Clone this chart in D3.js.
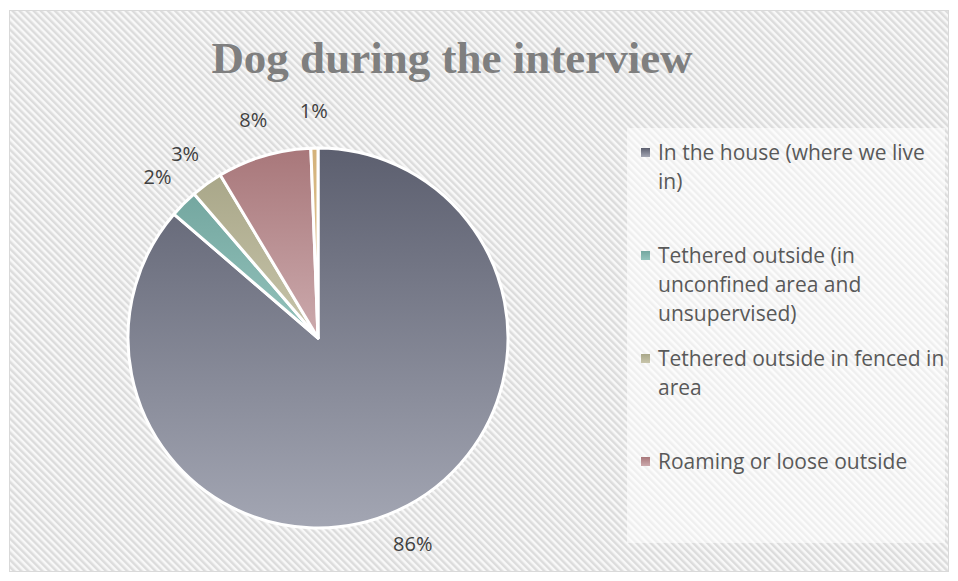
<!DOCTYPE html>
<html>
<head>
<meta charset="utf-8">
<script src="https://cdn.jsdelivr.net/npm/d3@7"></script>
<style>
  html, body { margin: 0; padding: 0; background: #ffffff; }
  svg { display: block; }
</style>
</head>
<body>
<svg id="chart" width="958" height="581"></svg>
<script>
// Where the dog was while the interview took place (share of respondents, %)
const categories = [
  "In the house (where we live in)",
  "Tethered outside (in unconfined area and unsupervised)",
  "Tethered outside in fenced in area",
  "Roaming or loose outside",
  "Other"
];
const shares = [86.3, 2.4, 2.7, 8.0, 0.6];
const colorsTop = ["#5c5f6f", "#74a7a0", "#a9a789", "#a8777a", "#d4b27a"];
const colorsBottom = ["#a3a6b3", "#94c3bc", "#c8c5ab", "#ccaaad", "#e3cb9f"];
const title = "Dog during the interview";

const svg = d3.select("#chart");
const defs = svg.append("defs");

// diagonal hatch used as the chart area fill
const P = 5;
const hatch = defs.append("pattern")
  .attr("id", "hatch")
  .attr("patternUnits", "userSpaceOnUse")
  .attr("width", P).attr("height", P)
  .attr("patternTransform", "rotate(-45)");
hatch.append("rect").attr("width", P).attr("height", P).attr("fill", "#f8f8f8");
hatch.append("rect").attr("width", P / 2).attr("height", P).attr("fill", "#dcdcdc");

// chart frame
svg.append("rect")
  .attr("x", 9.5).attr("y", 10.5)
  .attr("width", 939).attr("height", 561)
  .attr("fill", "url(#hatch)")
  .attr("stroke", "#d9d9d9").attr("stroke-width", 1);

// title
svg.append("text")
  .attr("x", 452).attr("y", 73)
  .attr("text-anchor", "middle")
  .attr("font-family", "'Liberation Serif', 'Times New Roman', serif")
  .attr("font-weight", "bold")
  .attr("font-size", 45)
  .attr("fill", "#7f7f7f")
  .text(title);

// vertical gradients, one per category
categories.forEach((c, i) => {
  const g = defs.append("linearGradient")
    .attr("id", "grad" + i)
    .attr("x1", 0).attr("y1", 0).attr("x2", 0).attr("y2", 1);
  g.append("stop").attr("offset", "0%").attr("stop-color", colorsTop[i]);
  g.append("stop").attr("offset", "100%").attr("stop-color", colorsBottom[i]);
});

// pie
const cx = 318, cy = 338, radius = 190;
const pie = d3.pie().sort(null).value(d => d)(shares);
const arc = d3.arc().innerRadius(0).outerRadius(radius);
const labelArc = d3.arc().innerRadius(227).outerRadius(227);

const gPie = svg.append("g").attr("transform", `translate(${cx},${cy})`);
gPie.selectAll("path.slice")
  .data(pie)
  .join("path")
  .attr("class", "slice")
  .attr("d", arc)
  .attr("fill", (d, i) => `url(#grad${i})`)
  .attr("stroke", "#ffffff")
  .attr("stroke-width", 3)
  .attr("stroke-linejoin", "round");

const fmt = d3.format(".0f");
gPie.selectAll("text.pct")
  .data(pie)
  .join("text")
  .attr("class", "pct")
  .attr("transform", d => `translate(${labelArc.centroid(d)})`)
  .attr("text-anchor", "middle")
  .attr("dy", "0.35em")
  .attr("font-family", "'Open Sans', sans-serif")
  .attr("font-size", 20)
  .attr("fill", "#404040")
  .text(d => fmt(d.data) + "%");

// legend
const lx = 627, ly = 128, lw = 318, lh = 415;
defs.append("clipPath").attr("id", "legendClip")
  .append("rect").attr("x", lx).attr("y", ly).attr("width", lw).attr("height", lh);
svg.append("rect")
  .attr("x", lx).attr("y", ly).attr("width", lw).attr("height", lh)
  .attr("fill", "#ffffff").attr("fill-opacity", 0.55);

const gLeg = svg.append("g").attr("clip-path", "url(#legendClip)");
const firstBaseline = 160, itemStep = 103, lineStep = 29, wrapWidth = 288;
const textX = 658;

categories.forEach((c, i) => {
  const base = firstBaseline + i * itemStep;
  gLeg.append("rect")
    .attr("x", 641).attr("y", base - 12)
    .attr("width", 9).attr("height", 9)
    .attr("fill", `url(#grad${i})`);
  const t = gLeg.append("text")
    .attr("x", textX).attr("y", base)
    .attr("font-family", "'Open Sans', sans-serif")
    .attr("font-size", 21)
    .attr("fill", "#595959");
  // word wrap within the legend column
  const words = c.split(" ");
  let line = [];
  let tspan = t.append("tspan").attr("x", textX).attr("y", base);
  let lineNo = 0;
  words.forEach(w => {
    line.push(w);
    tspan.text(line.join(" "));
    if (tspan.node().getComputedTextLength() > wrapWidth && line.length > 1) {
      line.pop();
      tspan.text(line.join(" "));
      line = [w];
      lineNo++;
      tspan = t.append("tspan").attr("x", textX).attr("y", base + lineNo * lineStep).text(w);
    }
  });
});
</script>
</body>
</html>
